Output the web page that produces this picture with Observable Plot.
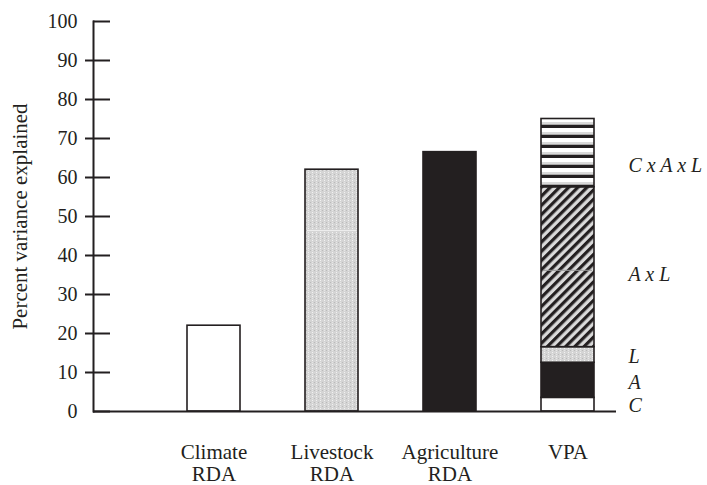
<!DOCTYPE html>
<html>
<head>
<meta charset="utf-8">
<script src="https://cdn.jsdelivr.net/npm/d3@7"></script>
<script src="https://cdn.jsdelivr.net/npm/@observablehq/plot@0.6"></script>
<style>
  html, body { margin: 0; padding: 0; background: white; }
  #chart svg { display: block; }
</style>
</head>
<body>
<!-- Fill patterns shared by the bars -->
<svg width="0" height="0" style="position:absolute">
  <defs>
    <pattern id="stipple" width="4" height="4" patternUnits="userSpaceOnUse">
      <rect width="4" height="4" fill="#d4d4d4"/>
      <rect x="0" y="0" width="1" height="1" fill="#f2f2f2"/>
      <rect x="2" y="2" width="1" height="1" fill="#bababa"/>
      <rect x="0" y="2" width="1" height="1" fill="#e6e6e6"/>
    </pattern>
    <pattern id="hatch" width="6.5" height="6.5" patternUnits="userSpaceOnUse" patternTransform="rotate(45)">
      <rect width="6.5" height="6.5" fill="#dadada"/>
      <rect x="0" y="0" width="3.2" height="6.5" fill="#231f20"/>
    </pattern>
    <pattern id="stripes" x="0" y="8" width="10" height="10" patternUnits="userSpaceOnUse">
      <rect width="10" height="4" fill="#ffffff"/>
      <rect y="4" width="10" height="2.7" fill="#d9d9d9"/>
      <rect y="6.7" width="10" height="3.3" fill="#231f20"/>
    </pattern>
  </defs>
</svg>
<div id="chart"></div>
<script>
// Bar categories (two-line tick labels)
const categories = ["Climate\nRDA", "Livestock\nRDA", "Agriculture\nRDA", "VPA"];

// Single-block RDA bars: percent variance explained
const rdaValues = [22, 62, 66.5];
const rdaFills = ["#ffffff", "url(#stipple)", "#231f20"];

// Variance partitioning (VPA) components, stacked bottom to top
const vpaParts = ["C", "A", "L", "A x L", "C x A x L"];
const vpaValues = [3.5, 9, 4, 41, 17.5];
const vpaFills = ["#ffffff", "#231f20", "url(#stipple)", "url(#hatch)", "url(#stripes)"];
const vpaLabelY = [1.5, 7.5, 14, 35, 63];

// Faint seams visible inside two of the bars
const seamCats = ["Livestock\nRDA", "VPA"];
const seamValues = [46.4, 36.2];
const seamColors = ["#eeeeee", "#9a9a9a"];

const yTicks = [0, 10, 20, 30, 40, 50, 60, 70, 80, 90, 100];

// Build the bar segments
const segments = [];
rdaValues.forEach((v, i) => segments.push({cat: categories[i], y1: 0, y2: v, fill: rdaFills[i]}));
let base = 0;
vpaValues.forEach((v, i) => {
  segments.push({cat: categories[3], y1: base, y2: base + v, fill: vpaFills[i]});
  base += v;
});
const seams = seamCats.map((c, i) => ({cat: c, y: seamValues[i], color: seamColors[i]}));
const vpaLabels = vpaParts.map((p, i) => ({label: p, y: vpaLabelY[i]}));

const ink = "#231f20";
const serif = "Liberation Serif";

const chart = Plot.plot({
  width: 707,
  height: 485,
  marginLeft: 93,
  marginRight: 91,
  marginTop: 21,
  marginBottom: 74,
  style: {fontFamily: serif, fontSize: "20px", color: ink, background: "white"},
  x: {type: "band", domain: categories, range: [153, 628], paddingInner: 0.553, paddingOuter: 0.2765, axis: null},
  y: {domain: [0, 100], axis: null},
  color: {type: "identity"},
  marks: [
    Plot.barY(segments, {x: "cat", y1: "y1", y2: "y2", fill: "fill", stroke: ink, strokeWidth: 1.6}),
    Plot.tickY(seams, {x: "cat", y: "y", stroke: "color", strokeWidth: 1, inset: 2}),
    // Axis lines
    Plot.ruleY([0], {stroke: ink, strokeWidth: 2}),
    Plot.frame({anchor: "left", stroke: ink, strokeWidth: 2}),
    // Inward ticks
    Plot.axisY(yTicks, {anchor: "left", tickSize: 17, dx: 17, fill: "none", stroke: ink, strokeWidth: 2, label: null}),
    // Outward ticks
    Plot.axisY(yTicks.filter(t => t > 0 && t < 100), {anchor: "left", tickSize: 8, fill: "none", stroke: ink, strokeWidth: 2, label: null}),
    // Tick labels
    Plot.text(yTicks, {y: d => d, text: d => String(d), frameAnchor: "left", dx: -16, textAnchor: "end",
      fontSize: 20, fontFamily: serif, fill: ink}),
    // Axis title
    Plot.text(["Percent variance explained"], {frameAnchor: "left", dx: -73, rotate: -90, textAnchor: "middle",
      fontSize: 21, fontFamily: serif, fill: ink}),
    // Category labels under the bars
    Plot.text(categories, {x: d => d, text: d => d, frameAnchor: "bottom", dy: 31, lineAnchor: "top",
      lineHeight: 1.08, fontSize: 21, fontFamily: serif, fill: ink}),
    // Component labels beside the VPA bar
    Plot.text(vpaLabels, {y: "y", text: "label", frameAnchor: "right", dx: 12, textAnchor: "start",
      fontStyle: "italic", fontSize: 20, fontFamily: serif, fill: ink})
  ]
});
document.getElementById("chart").appendChild(chart);
</script>
</body>
</html>
